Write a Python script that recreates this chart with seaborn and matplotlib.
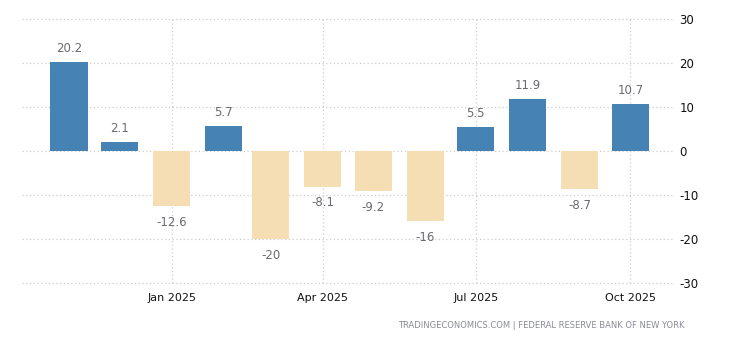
import matplotlib
matplotlib.use("Agg")
import matplotlib.pyplot as plt
import matplotlib.dates as mdates
import seaborn as sns
import pandas as pd
import datetime as dt

months = ["2024-11-01", "2024-12-01", "2025-01-01", "2025-02-01", "2025-03-01", "2025-04-01",
          "2025-05-01", "2025-06-01", "2025-07-01", "2025-08-01", "2025-09-01", "2025-10-01"]
values = [20.2, 2.1, -12.6, 5.7, -20, -8.1, -9.2, -16, 5.5, 11.9, -8.7, 10.7]
tick_dates = ["2025-01-01", "2025-04-01", "2025-07-01", "2025-10-01"]
tick_labels = ["Jan 2025", "Apr 2025", "Jul 2025", "Oct 2025"]
y_ticks = [-30, -20, -10, 0, 10, 20, 30]
source = "TRADINGECONOMICS.COM | FEDERAL RESERVE BANK OF NEW YORK"

sns.set_theme(style="white")
plt.rcParams['font.family'] = ['DejaVu Sans']

df = pd.DataFrame({
    "date": mdates.date2num(pd.to_datetime(months)),
    "value": values,
})
df["sign"] = ["pos" if v >= 0 else "neg" for v in values]

fig = plt.figure(figsize=(7.3, 3.4), dpi=100)
ax = fig.add_axes([22/730, 1-283/340, (674-22)/730, (283-19)/340])

sns.barplot(data=df, x="date", y="value", hue="sign", native_scale=True,
            palette={"pos": "#4682B4", "neg": "#F5DEB3"}, dodge=False,
            width=0.79, legend=False, ax=ax, saturation=1,
            edgecolor="none", linewidth=0)

for c in ax.containers:
    neg = all(b.get_height() < 0 for b in c)
    ax.bar_label(c, fmt=lambda v: f"{v:g}", padding=7 if neg else 5,
                 fontsize=8.5, color="#6a6a70")

ax.set_xlim(mdates.date2num(dt.datetime(2024, 10, 4)), mdates.date2num(dt.datetime(2025, 10, 27)))
ax.set_ylim(-30, 30)
ax.set_xticks(mdates.date2num(pd.to_datetime(tick_dates)))
ax.set_xticklabels(tick_labels, fontsize=8, color="#111111")
ax.set_yticks(y_ticks)
ax.set_yticklabels([str(t) for t in y_ticks], fontsize=8.5, color="#111111")
ax.yaxis.tick_right()
ax.tick_params(axis="y", length=0, pad=4)
ax.tick_params(axis="x", length=4, color="#cccccc", pad=3)
ax.set_xlabel("")
ax.set_ylabel("")
for s in ax.spines.values():
    s.set_visible(False)
ax.grid(True, axis="both", linestyle=(0, (1, 2)), color="#cccccc", linewidth=0.9)
ax.set_axisbelow(True)
for gl in ax.get_xgridlines() + ax.get_ygridlines():
    gl.set_clip_on(False)

fig.text(685/730, 1-325/340, source, ha="right", va="center", fontsize=6, color="#8a8a9a")

fig.savefig("out.png", dpi=100)
